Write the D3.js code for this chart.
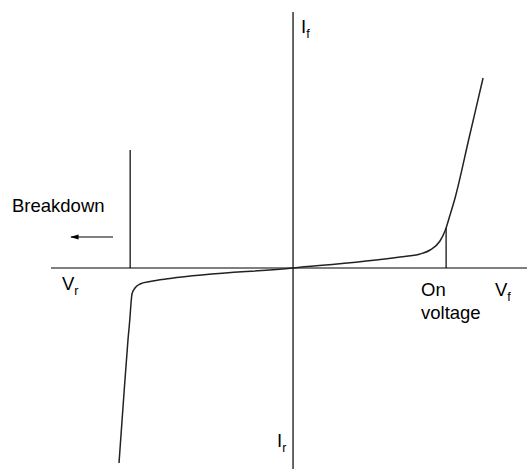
<!DOCTYPE html>
<html>
<head>
<meta charset="utf-8">
<script src="https://cdn.jsdelivr.net/npm/d3@7"></script>
<style>
  body { margin: 0; background: #fff; }
  text { font-family: "Liberation Sans", Arial, sans-serif; fill: #000; }
</style>
</head>
<body>
<div id="chart"></div>
<script>
// diode I-V curve, voltage (V) vs current (mA)
const voltage = [-0.796, -0.778, -0.755, -0.746, -0.741, -0.7365, -0.723, -0.700, -0.654, -0.563, 0, 0.489, 0.581, 0.627, 0.672, 0.695, 0.718, 0.741, 0.805, 0.869];
const current = [-19.5, -14.0, -7.2, -5.0, -3.5, -2.6, -2.0, -1.6, -1.35, -1.05, 0, 1.1, 1.4, 1.8, 2.7, 3.7, 5.3, 7.0, 13.0, 19.0];

// marker lines: [voltage, height in mA]
const breakdownLine = [-0.745, 11.8];
const onLine = [0.700, 4.0];

const width = 527;
const height = 469;

const x = d3.scaleLinear()
    .domain([-1.107, 1.070])
    .range([51, 527]);

const y = d3.scaleLinear()
    .domain([-20.1, 25.6])
    .range([469, 12]);

const svg = d3.select('#chart')
    .append('svg')
    .attr('width', width)
    .attr('height', height);

svg.append('defs').append('marker')
    .attr('id', 'arrow')
    .attr('viewBox', '0 0 10 10')
    .attr('refX', 9).attr('refY', 5)
    .attr('markerWidth', 7).attr('markerHeight', 7)
    .attr('orient', 'auto')
  .append('path')
    .attr('d', 'M0,2 L10,5 L0,8 Z')
    .attr('fill', '#000');

// axes as plain lines
svg.append('line')
    .attr('x1', x.range()[0]).attr('x2', x.range()[1])
    .attr('y1', y(0)).attr('y2', y(0))
    .attr('stroke', '#000').attr('stroke-width', 1.2);

svg.append('line')
    .attr('x1', x(0)).attr('x2', x(0))
    .attr('y1', y.range()[1]).attr('y2', y.range()[0])
    .attr('stroke', '#000').attr('stroke-width', 1.2);

// breakdown and on-voltage markers
[breakdownLine, onLine].forEach(m => {
  svg.append('line')
      .attr('x1', x(m[0])).attr('x2', x(m[0]))
      .attr('y1', y(0)).attr('y2', y(m[1]))
      .attr('stroke', '#000').attr('stroke-width', 1.2);
});

const pts = voltage.map((v, i) => [v, current[i]]);

const line = d3.line()
    .x(d => x(d[0]))
    .y(d => y(d[1]))
    .curve(d3.curveMonotoneX);

svg.append('path')
    .datum(pts)
    .attr('d', line)
    .attr('fill', 'none')
    .attr('stroke', '#222')
    .attr('stroke-width', 1.5);

// arrow pointing left
svg.append('line')
    .attr('x1', 113).attr('x2', 71)
    .attr('y1', 237).attr('y2', 237)
    .attr('stroke', '#000').attr('stroke-width', 1.2)
    .attr('marker-end', 'url(#arrow)');

const fs = 18.5;

function label(tx, ty, main, sub) {
  const t = svg.append('text')
      .attr('x', tx).attr('y', ty)
      .attr('font-size', fs);
  t.append('tspan').text(main);
  if (sub) {
    t.append('tspan')
        .attr('font-size', fs * 0.68)
        .attr('dy', 5)
        .text(sub);
  }
}

label(12, 212, 'Breakdown');
label(62, 290, 'V', 'r');
label(495, 296, 'V', 'f');
label(421, 296, 'On');
label(421, 319, 'voltage');
label(301, 33, 'I', 'f');
label(277, 447, 'I', 'r');
</script>
</body>
</html>
